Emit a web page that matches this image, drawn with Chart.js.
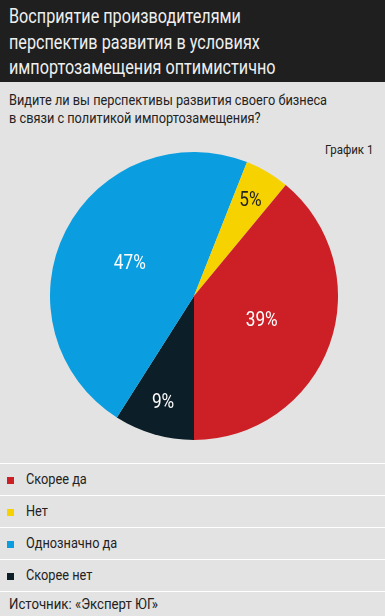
<!DOCTYPE html>
<html lang="ru">
<head>
<meta charset="utf-8">
<script src="https://cdn.jsdelivr.net/npm/chart.js@4"></script>
<style>
    html, body {
        margin: 0;
        padding: 0;
    }
    body {
        width: 385px;
        height: 616px;
        background: #e3e3e3;
        position: relative;
        overflow: hidden;
        font-family: "Roboto", sans-serif;
        color: #222;
    }
    .narrow {
        display: inline-block;
        transform: scaleX(0.85);
        transform-origin: 0 0;
        white-space: nowrap;
    }
    .header {
        position: absolute;
        left: 0; top: 0;
        width: 385px; height: 82px;
        background: #1f1f1f;
        color: #efefef;
        font-size: 20px;
        line-height: 25.5px;
        padding: 4px 0 0 9px;
        box-sizing: border-box;
    }
    .header .narrow { transform: scaleX(0.81); }
    .question {
        position: absolute;
        left: 9px; top: 91px;
        font-size: 15px;
        line-height: 18px;
    }
    .label-num {
        position: absolute;
        left: 325px; top: 141px;
        font-size: 13.5px;
    }
    .chart-box {
        position: absolute;
        left: 50px; top: 152px;
        width: 288px; height: 288px;
    }
    .legend {
        position: absolute;
        left: 0; top: 463px;
        width: 385px;
    }
    .legend .row {
        height: 31px;
        border-top: 1.5px solid #fff;
        font-size: 15px;
        line-height: 31px;
        padding-left: 26px;
        position: relative;
    }
    .legend .row span {
        position: absolute;
        left: 7px; top: 13px;
        width: 7px; height: 7px;
    }
    .source {
        position: absolute;
        left: 0; top: 591px;
        width: 385px;
        border-top: 1.5px solid #fff;
        padding-left: 9px;
        box-sizing: border-box;
        font-size: 15px;
        line-height: 24px;
    }
    .source .narrow { transform: scaleX(0.88); }
</style>
</head>
<body>

<div class="header"><span class="narrow">
    Восприятие производителями<br>
    перспектив развития в условиях<br>
    импортозамещения оптимистично
</span></div>
<div class="question"><span class="narrow">
    Видите ли вы перспективы развития своего бизнеса<br>
    в связи с политикой импортозамещения?
</span></div>
<div class="label-num"><span class="narrow">График 1</span></div>

<div class="chart-box"><canvas id="pieChart"></canvas></div>

<div class="legend" id="legend"></div>
<div class="source"><span class="narrow">Источник: «Эксперт ЮГ»</span></div>

<script>
// ===== DATA (legend order) =====
const categories = ["Скорее да", "Нет", "Однозначно да", "Скорее нет"];
const shares = [39, 5, 47, 9];
const colors = ["#cd2026", "#f6d200", "#0a9ee0", "#0c1e27"];
const labelColors = ["#ffffff", "#222222", "#ffffff", "#ffffff"];

// ===== LEGEND =====
const legend = document.getElementById("legend");
categories.forEach((name, i) => {
    const row = document.createElement("div");
    row.className = "row";
    row.innerHTML = '<span style="background:' + colors[i] + '"></span><b class="narrow" style="font-weight:400">' + name + '</b>';
    legend.appendChild(row);
});

// pie in the picture runs counterclockwise from the bottom,
// chart.js draws clockwise -> reverse the order
const order = [3, 2, 1, 0];

// ===== PERCENT LABELS =====
const pctLabels = {
    id: "pctLabels",
    afterDatasetsDraw(chart) {
        const ctx = chart.ctx;
        const meta = chart.getDatasetMeta(0);
        meta.data.forEach((arc, j) => {
            const i = order[j];
            const mid = (arc.startAngle + arc.endAngle) / 2;
            const k = shares[i] < 10 ? 0.77 : 0.5;
            const r = arc.outerRadius * k;
            ctx.save();
            ctx.translate(arc.x + Math.cos(mid) * r, arc.y + Math.sin(mid) * r);
            ctx.scale(0.82, 1);
            ctx.font = '21px Roboto, sans-serif';
            ctx.textAlign = "center";
            ctx.textBaseline = "middle";
            ctx.fillStyle = labelColors[i];
            ctx.fillText(shares[i] + "%", 0, 0);
            ctx.restore();
        });
    }
};

new Chart(document.getElementById("pieChart"), {
    type: "pie",
    data: {
        labels: order.map(i => categories[i]),
        datasets: [{
            data: order.map(i => shares[i]),
            backgroundColor: order.map(i => colors[i]),
            borderWidth: 0
        }]
    },
    options: {
        responsive: true,
        maintainAspectRatio: false,
        animation: false,
        rotation: 180,
        layout: { padding: 0 },
        plugins: {
            legend: { display: false },
            tooltip: { enabled: false }
        }
    },
    plugins: [pctLabels]
});
</script>
</body>
</html>
